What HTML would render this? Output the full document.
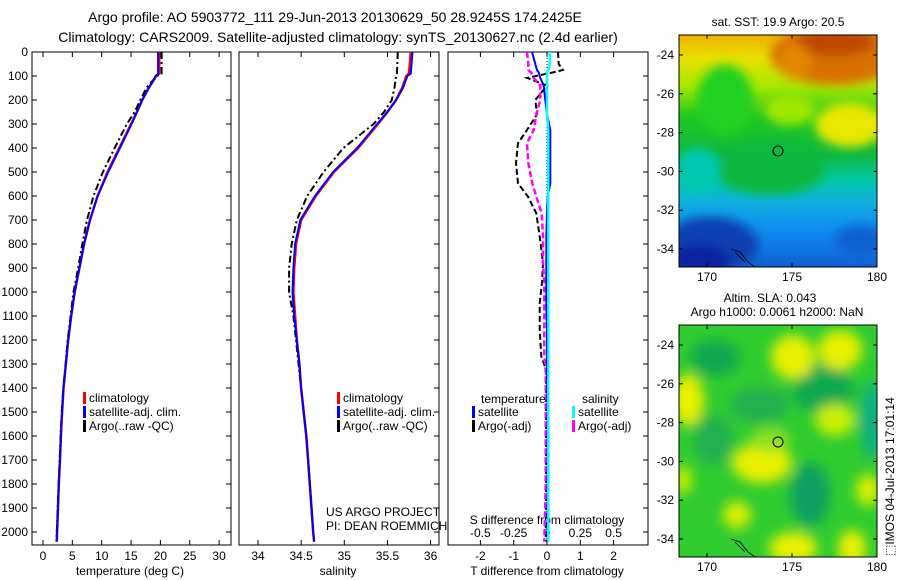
<!DOCTYPE html>
<html><head><meta charset="utf-8"><style>
body{margin:0;background:#fff;}
svg{display:block;font-family:"Liberation Sans",sans-serif;}
text{fill:#000;}
</style></head><body>
<svg id="fig" width="900" height="580" viewBox="0 0 900 580">
<defs>
<filter id="blur6"><feGaussianBlur stdDeviation="5"/></filter>
<filter id="blur10"><feGaussianBlur stdDeviation="6"/></filter>
<clipPath id="cTop"><rect x="679" y="35" width="198" height="232"/></clipPath>
<clipPath id="cBot"><rect x="679" y="325" width="198" height="232"/></clipPath>
<linearGradient id="sstGrad" x1="0" y1="0" x2="0" y2="1">
<stop offset="0" stop-color="#f0b000"/><stop offset="0.1" stop-color="#e8e000"/>
<stop offset="0.22" stop-color="#a8e800"/><stop offset="0.35" stop-color="#20c820"/>
<stop offset="0.52" stop-color="#10b840"/><stop offset="0.62" stop-color="#00c8a0"/>
<stop offset="0.72" stop-color="#10b0e0"/><stop offset="0.85" stop-color="#1088f0"/><stop offset="1" stop-color="#1060d0"/>
</linearGradient>
</defs>
<text x="335" y="22" font-size="14" text-anchor="middle">Argo profile: AO 5903772_111 29-Jun-2013 20130629_50 28.9245S 174.2425E</text>
<text x="338" y="42" font-size="14" text-anchor="middle">Climatology: CARS2009. Satellite-adjusted climatology: synTS_20130627.nc (2.4d earlier)</text>
<g id="panels"></g>

<!-- SST map -->
<g>
<text x="778" y="26" font-size="12" text-anchor="middle">sat. SST: 19.9 Argo: 20.5</text>
<g clip-path="url(#cTop)">
<rect x="679" y="35" width="198" height="232" fill="url(#sstGrad)"/>
<g filter="url(#blur6)">
<ellipse cx="835" cy="55" rx="65" ry="30" fill="#d87000"/>
<ellipse cx="835" cy="42" rx="40" ry="14" fill="#c04800"/>
<ellipse cx="795" cy="62" rx="16" ry="18" fill="#e08800"/>
<ellipse cx="725" cy="100" rx="28" ry="35" fill="#20d020"/>
<ellipse cx="850" cy="125" rx="35" ry="22" fill="#e8e800"/>
<ellipse cx="790" cy="110" rx="25" ry="15" fill="#a0e800"/>
<ellipse cx="770" cy="170" rx="55" ry="25" fill="#10b840"/>
<ellipse cx="698" cy="170" rx="22" ry="22" fill="#00c8b0"/>
<ellipse cx="710" cy="245" rx="48" ry="28" fill="#1040b0"/>
<ellipse cx="700" cy="260" rx="30" ry="15" fill="#0820a0"/>
<ellipse cx="860" cy="240" rx="25" ry="15" fill="#1060d0"/>
</g>
</g>
<rect x="679" y="35" width="198" height="232" fill="none" stroke="#000"/>
<circle cx="778" cy="151" r="5" fill="none" stroke="#000"/>
<path d="M731,249 L740,252 L748,262 L755,267 M735,252 L745,262" stroke="#000" fill="none" stroke-width="0.8"/>
</g>

<!-- SLA map -->
<g>
<text x="770" y="302" font-size="12" text-anchor="middle">Altim. SLA: 0.043</text>
<text x="777" y="316" font-size="12" text-anchor="middle">Argo h1000: 0.0061 h2000: NaN</text>
<g clip-path="url(#cBot)">
<rect x="679" y="325" width="198" height="232" fill="#30cc30"/>
<g filter="url(#blur10)">
<ellipse cx="715" cy="358" rx="25" ry="18" fill="#10a850"/>
<ellipse cx="823" cy="390" rx="30" ry="25" fill="#10a850"/>
<ellipse cx="810" cy="495" rx="20" ry="32" fill="#10a060"/>
<ellipse cx="872" cy="420" rx="12" ry="40" fill="#10b080"/>
<ellipse cx="760" cy="405" rx="30" ry="18" fill="#20b050"/>
<ellipse cx="713" cy="440" rx="20" ry="25" fill="#20b050"/>
<ellipse cx="793" cy="357" rx="22" ry="22" fill="#e8f000"/>
<ellipse cx="840" cy="350" rx="22" ry="20" fill="#e8f000"/>
<ellipse cx="688" cy="400" rx="16" ry="26" fill="#e8f000"/>
<ellipse cx="835" cy="420" rx="20" ry="16" fill="#c8f000"/>
<ellipse cx="762" cy="463" rx="30" ry="20" fill="#e8f000"/>
<ellipse cx="868" cy="490" rx="12" ry="16" fill="#d8f000"/>
<ellipse cx="737" cy="515" rx="14" ry="14" fill="#d8f000"/>
<ellipse cx="793" cy="548" rx="24" ry="16" fill="#e8f000"/>
<ellipse cx="852" cy="548" rx="14" ry="18" fill="#e8f000"/>
<ellipse cx="683" cy="480" rx="8" ry="14" fill="#d8f000"/>
<ellipse cx="770" cy="440" rx="20" ry="12" fill="#90e020"/>
</g>
</g>
<rect x="679" y="325" width="198" height="232" fill="none" stroke="#000"/>
<circle cx="778" cy="442" r="5" fill="none" stroke="#000"/>
<path d="M731,539 L740,542 L748,552 L755,557 M735,542 L745,552" stroke="#000" fill="none" stroke-width="0.8"/>
<text x="0" y="0" font-size="12" transform="translate(894,556) rotate(-90)">⬚IMOS 04-Jul-2013 17:01:14</text>
</g>
<g id="mapaxes"></g>
</svg>
<script>
// ---- data ----
const depths = [0,90,100,150,200,250,300,400,500,600,700,800,900,1000,1100,1200,1300,1400,1500,1600,1700,1800,1900,2000,2040];
const tempClim = [19.8,19.8,19.3,18.0,16.9,16.0,15.0,13.0,11.0,9.3,8.0,7.0,6.2,5.4,4.8,4.3,3.9,3.5,3.25,3.05,2.9,2.7,2.55,2.4,2.35];
const tempSat  = [19.6,19.6,19.2,18.0,16.9,16.0,15.1,13.1,11.1,9.3,8.0,7.0,6.2,5.4,4.8,4.3,3.9,3.5,3.25,3.05,2.9,2.7,2.55,2.4,2.35];
const tempArgo = [20.2,20.2,19.4,17.6,16.6,15.6,14.3,12.2,10.2,8.6,7.5,6.7,6.0,5.2,4.7,4.2,3.85,3.45,3.2,3.0,2.85,2.68,2.5,2.35,2.3];
const salClim  = [35.77,35.75,35.72,35.67,35.6,35.5,35.39,35.16,34.88,34.67,34.5,34.44,34.42,34.41,34.43,34.45,34.48,34.5,34.53,34.56,34.58,34.6,34.62,34.64,34.65];
const salSat   = [35.79,35.77,35.73,35.68,35.6,35.5,35.38,35.15,34.87,34.66,34.49,34.43,34.41,34.4,34.42,34.45,34.48,34.5,34.53,34.56,34.58,34.6,34.62,34.64,34.65];
const salArgo  = [35.62,35.61,35.6,35.58,35.55,35.46,35.34,34.99,34.76,34.57,34.45,34.39,34.36,34.36,34.41,34.44,34.47,34.5,34.53,34.56,34.58,34.6,34.62,34.64,34.65];
const diffDepths = [0,50,75,85,108,140,200,260,325,380,463,547,603,672,769,880,960,1047,1158,1269,1325,1500,1800,2040];
const dTArgo = [0.33,0.35,0.48,0.18,-0.6,0.0,-0.35,-0.3,-0.6,-0.87,-0.93,-0.87,-0.57,-0.32,-0.22,-0.12,-0.15,-0.22,-0.22,-0.17,-0.02,-0.03,-0.03,-0.04];
const dSArgo = [-0.15,-0.14,-0.14,-0.12,-0.1,-0.05,-0.05,-0.08,-0.1,-0.15,-0.14,-0.11,-0.08,-0.04,-0.03,-0.03,-0.02,-0.02,-0.02,-0.02,-0.01,-0.01,-0.01,-0.02];
const dTSat  = [-0.45,-0.35,-0.3,-0.25,-0.2,-0.1,-0.05,0.0,0.1,0.1,0.1,0.1,0.02,0.0,-0.02,-0.02,-0.02,-0.02,0.0,0.0,0.0,0.02,0.02,0.02];
const dSSat  = [0.02,0.02,0.01,0.0,0.0,0.0,0.0,0.0,0.01,0.01,0.01,0.01,0.01,0.01,0.01,0.01,0.01,0.01,0.01,0.01,0.01,0.01,0.01,0.01];
const depthTicks = [0,100,200,300,400,500,600,700,800,900,1000,1100,1200,1300,1400,1500,1600,1700,1800,1900,2000];
const tempTicks = [0,5,10,15,20,25,30];
const salTicks = [34,34.5,35,35.5,36];
const dTTicks = [-2,-1,0,1,2];
const dSTicks = [-0.5,-0.25,0,0.25,0.5];
const latTicks = [-24,-26,-28,-30,-32,-34];
const lonTicks = [170,175,180];

const NS = 'http://www.w3.org/2000/svg';
const root = document.getElementById('panels');
function mk(tag, attrs, parent){ const e=document.createElementNS(NS,tag); for(const k in attrs) e.setAttribute(k,attrs[k]); (parent||root).appendChild(e); return e; }
const TOP=52, BOT=545;
const yD = d => TOP + d*0.24;
const xT = t => 43 + t*5.87;
const xS = s => 258 + (s-34)*86.3;
const xdT = v => 547 + v*33.3;
const xdS = v => 547 + v*133.3;

const panels = [[32,231],[239,439],[448,648]];
panels.forEach((p,i)=>{
  const r = mk('rect',{x:p[0],y:TOP,width:p[1]-p[0],height:BOT-TOP,fill:'none',stroke:'#000'});
  
  
  depthTicks.forEach(d=>{
    mk('line',{x1:p[1],x2:p[1]-5,y1:yD(d),y2:yD(d),stroke:'#000'});
    if(i===0) mk('line',{x1:p[0],x2:p[0]+5,y1:yD(d),y2:yD(d),stroke:'#000'});
  });
});
depthTicks.forEach(d=>{
  const t = mk('text',{x:28,y:yD(d)+4,'font-size':12,'text-anchor':'end'}); t.textContent=d;
  
  
});
function xticks(vals, fx, lab, y, name){
  vals.forEach(v=>{
    mk('line',{x1:fx(v),x2:fx(v),y1:BOT,y2:BOT-5,stroke:'#000'});
    mk('line',{x1:fx(v),x2:fx(v),y1:TOP,y2:TOP+5,stroke:'#000'});
    const t=mk('text',{x:fx(v),y:y,'font-size':12,'text-anchor':'middle'}); t.textContent=lab(v);
    
    
  });
}
xticks(tempTicks,xT,v=>v,560,'temp-tick-label');
xticks(salTicks,xS,v=>v,560,'salinity-tick-label');
xticks(dTTicks,xdT,v=>v,560,'tdiff-tick-label');
dSTicks.forEach(v=>{ const t=mk('text',{x:xdS(v),y:537,'font-size':12,'text-anchor':'middle'}); t.textContent=v;
  
   });
function label(x,y,s,name,anchor){ const t=mk('text',{x:x,y:y,'font-size':12,'text-anchor':anchor||'middle'}); t.textContent=s;
  
   return t;}
label(130,575,'temperature (deg C)','temp-axis-title');
label(338,575,'salinity','salinity-axis-title');
label(547,575,'T difference from climatology','tdiff-axis-title');
label(547,524,'S difference from climatology','sdiff-axis-title');
label(326,516,'US ARGO PROJECT','project-label','start');
label(326,530,'PI: DEAN ROEMMICH','pi-label','start');

function line(xs, ys, fx, fy, color, width, dash, name){
  const pts = xs.map((v,i)=>fx(v).toFixed(1)+','+fy(ys[i]).toFixed(1)).join(' ');
  const a={points:pts,fill:'none',stroke:color,'stroke-width':width};
  if(dash) a['stroke-dasharray']=dash;
  const e=mk('polyline',a);
  
  
}
line(tempClim,depths,xT,yD,'#f00',2.5,null,'temp-climatology-line');
line(tempArgo,depths,xT,yD,'#000',2,'7,3,2,3','temp-argo-line');
line(tempSat,depths,xT,yD,'#00f',2,null,'temp-satellite-line');
line(salClim,depths,xS,yD,'#f00',2.5,null,'salinity-climatology-line');
line(salArgo,depths,xS,yD,'#000',2,'7,3,2,3','salinity-argo-line');
line(salSat,depths,xS,yD,'#00f',2,null,'salinity-satellite-line');
mk('line',{x1:547,x2:547,y1:TOP,y2:BOT,stroke:'#000','stroke-dasharray':'1,2'});
line(dTArgo,diffDepths,xdT,yD,'#000',2,'6,3','tdiff-argo-line');
line(dSArgo,diffDepths,xdS,yD,'#f0f',2.5,'6,3','sdiff-argo-line');
line(dTSat,diffDepths,xdT,yD,'#00f',2,null,'tdiff-satellite-line');
line(dSSat,diffDepths,xdS,yD,'#0ff',2.5,null,'sdiff-satellite-line');

function legend(x,y,color,s,name){
  mk('rect',{x:x,y:y-10,width:3,height:12,fill:color});
  label(x+6,y,s,name,'start');
}
legend(83,402,'#f00','climatology','legend-climatology');
legend(83,416,'#00f','satellite-adj. clim.','legend-satellite');
legend(83,430,'#000','Argo(..raw -QC)','legend-argo');
legend(337,402,'#f00','climatology','legend-climatology-2');
legend(337,416,'#00f','satellite-adj. clim.','legend-satellite-2');
legend(337,430,'#000','Argo(..raw -QC)','legend-argo-2');
label(481,403,'temperature','legend-temperature-header','start');
legend(472,416,'#00f','satellite','legend-tdiff-satellite');
legend(472,430,'#000','Argo(-adj)','legend-tdiff-argo');
label(582,403,'salinity','legend-salinity-header','start');
legend(572,416,'#0ff','satellite','legend-sdiff-satellite');
legend(572,430,'#f0f','Argo(-adj)','legend-sdiff-argo');

// map axes
const ma = document.getElementById('mapaxes');
const xLon = l => 707 + (l-170)*17;
[[35,267],[325,557]].forEach((m,mi)=>{
  const yLat = la => m[0]+20 + (-24-la)*19.4;
  latTicks.forEach(la=>{
    mk('line',{x1:679,x2:683,y1:yLat(la),y2:yLat(la),stroke:'#000'},ma);
    mk('line',{x1:877,x2:873,y1:yLat(la),y2:yLat(la),stroke:'#000'},ma);
    const t=mk('text',{x:674,y:yLat(la)+4,'font-size':12,'text-anchor':'end'},ma); t.textContent=la;
    
    
  });
  lonTicks.forEach(lo=>{
    mk('line',{x1:xLon(lo),x2:xLon(lo),y1:m[0],y2:m[0]+4,stroke:'#000'},ma);
    mk('line',{x1:xLon(lo),x2:xLon(lo),y1:m[1],y2:m[1]-4,stroke:'#000'},ma);
    const t=mk('text',{x:xLon(lo),y:m[1]+14,'font-size':12,'text-anchor':'middle'},ma); t.textContent=lo;
    
    
  });
});
</script>
</body></html>
